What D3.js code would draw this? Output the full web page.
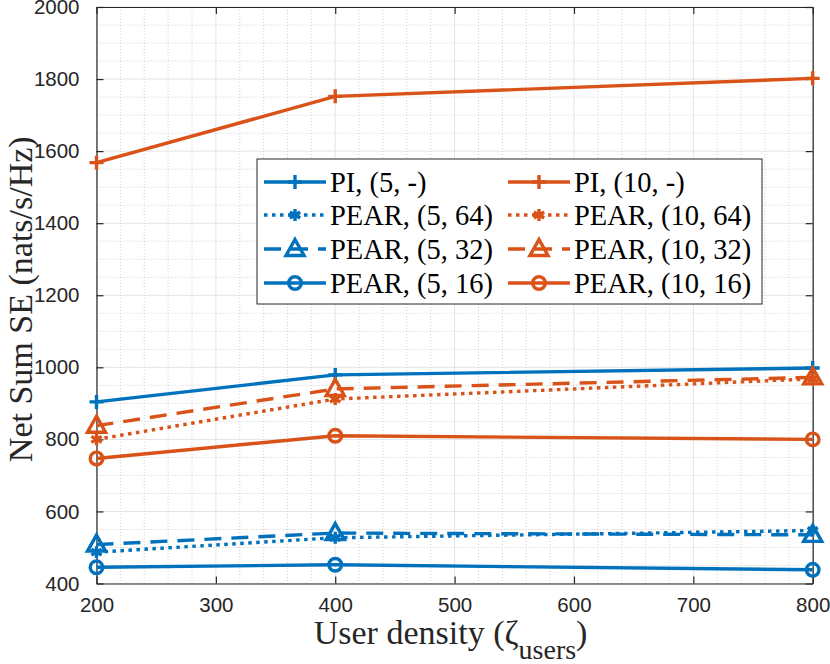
<!DOCTYPE html>
<html>
<head>
<meta charset="utf-8">
<script src="https://cdn.jsdelivr.net/npm/d3@7"></script>
<style>
  body { margin: 0; background: #fff; }
  svg { display: block; }
</style>
</head>
<body>
<svg id="chart" width="830" height="664"></svg>
<script>
// data
var density = [200, 400, 800];
var pi5 = [904, 979, 998];
var pear5_64 = [487, 527, 547];
var pear5_32 = [508, 540, 535];
var pear5_16 = [445, 452, 438];
var pi10 = [1568, 1752, 1802];
var pear10_64 = [800, 912, 968];
var pear10_32 = [838, 940, 972];
var pear10_16 = [747, 810, 800];
var seriesNames = ["PI, (5, -)", "PEAR, (5, 64)", "PEAR, (5, 32)", "PEAR, (5, 16)",
                   "PI, (10, -)", "PEAR, (10, 64)", "PEAR, (10, 32)", "PEAR, (10, 16)"];
var xTicks = [200, 300, 400, 500, 600, 700, 800];
var yTicks = [400, 600, 800, 1000, 1200, 1400, 1600, 1800, 2000];

var blue = "#0072BD", orange = "#D95319";
var series = [
  {name: seriesNames[0], vals: pi5, color: blue, dash: null, mk: "plus"},
  {name: seriesNames[1], vals: pear5_64, color: blue, dash: "3.5,4.5", mk: "star"},
  {name: seriesNames[2], vals: pear5_32, color: blue, dash: "17,10", mk: "tri"},
  {name: seriesNames[3], vals: pear5_16, color: blue, dash: null, mk: "circ"},
  {name: seriesNames[4], vals: pi10, color: orange, dash: null, mk: "plus"},
  {name: seriesNames[5], vals: pear10_64, color: orange, dash: "3.5,4.5", mk: "star"},
  {name: seriesNames[6], vals: pear10_32, color: orange, dash: "17,10", mk: "tri"},
  {name: seriesNames[7], vals: pear10_16, color: orange, dash: null, mk: "circ"}
];

var svg = d3.select("#chart");
var pL = 96.5, pR = 812.7, pT = 7, pB = 583.5;
var x = d3.scaleLinear().domain([200, 800]).range([pL, pR]);
var y = d3.scaleLinear().domain([400, 2000]).range([pB, pT]);
var axCol = "#262626";
var serif = "'Liberation Serif', 'Times New Roman', serif";
var lw = 3.4;

// grid
var g = svg.append("g");
g.selectAll("line.minx").data(d3.range(200, 801, 20).filter(function(v){ return v % 100 != 0; }))
  .enter().append("line")
  .attr("x1", function(d){ return x(d); }).attr("x2", function(d){ return x(d); })
  .attr("y1", pT).attr("y2", pB)
  .attr("stroke", "#cfcfcf").attr("stroke-width", 1).attr("stroke-dasharray", "1,2");
g.selectAll("line.miny").data(d3.range(400, 2001, 50).filter(function(v){ return v % 200 != 0; }))
  .enter().append("line")
  .attr("y1", function(d){ return y(d); }).attr("y2", function(d){ return y(d); })
  .attr("x1", pL).attr("x2", pR)
  .attr("stroke", "#cfcfcf").attr("stroke-width", 1).attr("stroke-dasharray", "1,2");
g.selectAll("line.majx").data(xTicks).enter().append("line")
  .attr("x1", function(d){ return x(d); }).attr("x2", function(d){ return x(d); })
  .attr("y1", pT).attr("y2", pB)
  .attr("stroke", "#e3e3e3").attr("stroke-width", 1);
g.selectAll("line.majy").data(yTicks).enter().append("line")
  .attr("y1", function(d){ return y(d); }).attr("y2", function(d){ return y(d); })
  .attr("x1", pL).attr("x2", pR)
  .attr("stroke", "#e3e3e3").attr("stroke-width", 1);

// axes (ticks inward on all four sides)
function styleAxis(sel) {
  sel.select(".domain").attr("stroke", axCol).attr("stroke-width", 1.2);
  sel.selectAll(".tick line").attr("stroke", axCol).attr("stroke-width", 1.2);
  sel.selectAll("text").attr("fill", axCol).style("font-family", "'Liberation Sans', Arial, sans-serif").style("font-size", "20.5px");
}
svg.append("g").attr("transform", "translate(0," + pB + ")")
  .call(d3.axisBottom(x).tickValues(xTicks).tickSizeInner(-7).tickSizeOuter(0).tickPadding(14).tickFormat(d3.format("d")))
  .call(styleAxis);
svg.append("g").attr("transform", "translate(0," + pT + ")")
  .call(d3.axisTop(x).tickValues(xTicks).tickSizeInner(-7).tickSizeOuter(0).tickFormat(""))
  .call(styleAxis);
svg.append("g").attr("transform", "translate(" + pL + ",0)")
  .call(d3.axisLeft(y).tickValues(yTicks).tickSizeInner(-7).tickSizeOuter(0).tickPadding(17).tickFormat(d3.format("d")))
  .call(styleAxis);
svg.append("g").attr("transform", "translate(" + pR + ",0)")
  .call(d3.axisRight(y).tickValues(yTicks).tickSizeInner(-7).tickSizeOuter(0).tickFormat(""))
  .call(styleAxis);

// markers
function marker(sel, kind, color) {
  if (kind == "plus") {
    sel.append("path").attr("d", "M-7,0H7M0,-7V7").attr("stroke", color).attr("stroke-width", lw).attr("fill", "none");
  } else if (kind == "star") {
    sel.append("path").attr("d", d3.symbol(d3.symbolAsterisk, 100)()).attr("stroke", color).attr("stroke-width", lw).attr("fill", "none");
  } else if (kind == "tri") {
    sel.append("path").attr("d", "M0,-9.5L9,6.5H-9Z").attr("stroke", color).attr("stroke-width", lw).attr("fill", "none");
  } else {
    sel.append("circle").attr("r", 6.3).attr("stroke", color).attr("stroke-width", lw).attr("fill", "none");
  }
}

var line = d3.line().x(function(d, i){ return x(density[i]); }).y(function(d){ return y(d); });
series.forEach(function(s) {
  svg.append("path").datum(s.vals).attr("d", line)
    .attr("fill", "none").attr("stroke", s.color).attr("stroke-width", lw)
    .attr("stroke-dasharray", s.dash);
  s.vals.forEach(function(v, i) {
    var m = svg.append("g").attr("transform", "translate(" + x(density[i]) + "," + y(v) + ")");
    marker(m, s.mk, s.color);
  });
});

// legend
var lg = svg.append("g");
lg.append("rect").attr("x", 257).attr("y", 159).attr("width", 505).attr("height", 145)
  .attr("fill", "#fff").attr("stroke", axCol).attr("stroke-width", 1);
var rowY = [182, 215, 249, 283];
series.forEach(function(s, k) {
  var col = Math.floor(k / 4), row = k % 4;
  var x0 = col == 0 ? 264 : 508;
  var cy = rowY[row];
  lg.append("line").attr("x1", x0).attr("x2", x0 + 62).attr("y1", cy).attr("y2", cy)
    .attr("stroke", s.color).attr("stroke-width", lw).attr("stroke-dasharray", s.dash);
  var m = lg.append("g").attr("transform", "translate(" + (x0 + 31) + "," + cy + ")");
  marker(m, s.mk, s.color);
  lg.append("text").attr("x", x0 + 66).attr("y", cy + 10)
    .style("font-family", serif).style("font-size", "28.5px")
    .attr("fill", "#000").text(s.name);
});

// axis labels
var xl = svg.append("text").attr("x", (pL + pR) / 2 - 4).attr("y", 644).attr("text-anchor", "middle")
  .style("font-family", serif).style("font-size", "34px").attr("fill", axCol);
xl.append("tspan").text("User density (ζ");
xl.append("tspan").attr("dy", 15).style("font-size", "28px").text("users");
xl.append("tspan").attr("dy", -15).text(")");

svg.append("text").attr("transform", "translate(32," + ((pT + pB) / 2 + 4) + ") rotate(-90)")
  .attr("text-anchor", "middle")
  .style("font-family", serif).style("font-size", "34px").attr("fill", axCol)
  .text("Net Sum SE (nats/s/Hz)");
</script>
</body>
</html>
